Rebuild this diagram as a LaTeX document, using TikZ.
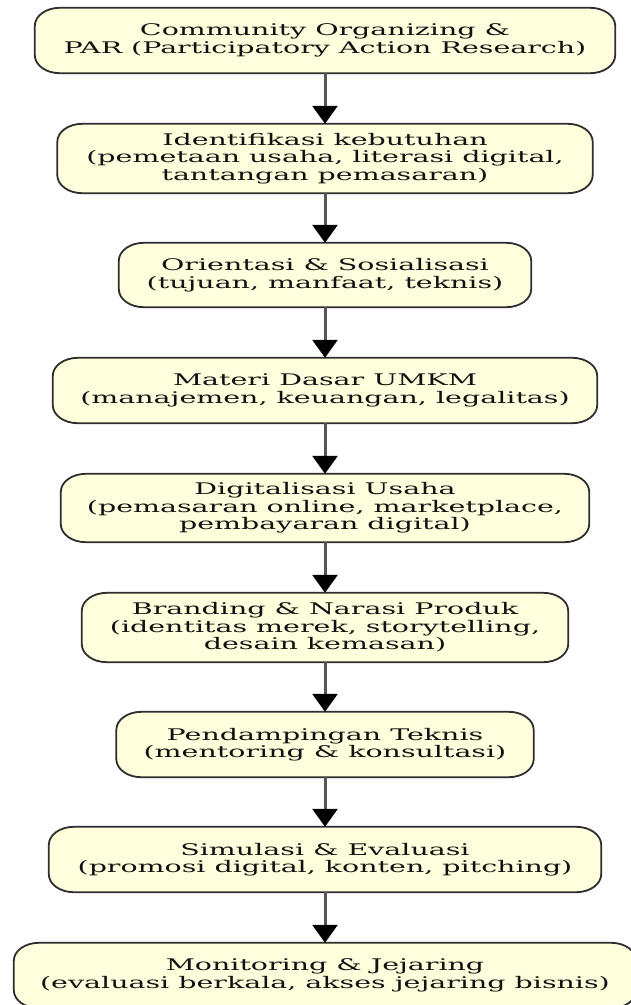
\documentclass[tikz,border=0pt]{standalone}
\usepackage{fontspec}
\newfontfamily\boxfont{DejaVu Serif}[FakeStretch=1.78]
\usetikzlibrary{arrows.meta,backgrounds}
\definecolor{boxfill}{HTML}{FFFFDD}
\definecolor{boxdraw}{HTML}{2E2E2E}
\definecolor{arrowgray}{HTML}{555555}
\definecolor{txt}{HTML}{111111}
\tikzset{
  flowbox/.style={align=center, font=\boxfont\fontsize{16}{17.5}\selectfont, text=txt, inner sep=0pt},
  flowarrow/.style={draw=arrowgray, line width=3pt, -{Triangle[width=25pt,length=18pt,color=black]}},
  boxline/.style={draw=boxdraw, fill=boxfill, line width=1.8pt}
}
\newcommand\ellbox[1]{%
  \path[boxline] ([xshift=25pt]#1.north west) -- ([xshift=-25pt]#1.north east)
    arc[start angle=90,end angle=0,x radius=25pt,y radius=18pt]
    -- ([yshift=18pt]#1.south east)
    arc[start angle=0,end angle=-90,x radius=25pt,y radius=18pt]
    -- ([xshift=25pt]#1.south west)
    arc[start angle=270,end angle=180,x radius=25pt,y radius=18pt]
    -- ([yshift=-18pt]#1.north west)
    arc[start angle=180,end angle=90,x radius=25pt,y radius=18pt] -- cycle;}
\begin{document}
\begin{tikzpicture}[x=1pt,y=1pt]
\useasboundingbox (0,0) rectangle (630,-1005);
\node[flowbox, minimum width=580pt, minimum height=65pt] (n1) at (325,-40.5) {Community Organizing \&\\PAR (Participatory Action Research)};
\node[flowbox, minimum width=535pt, minimum height=69pt] (n2) at (325,-158.5) {Identifikasi kebutuhan\\(pemetaan usaha, literasi digital,\\tantangan pemasaran)};
\node[flowbox, minimum width=412pt, minimum height=64pt] (n3) at (325,-275) {Orientasi \& Sosialisasi\\(tujuan, manfaat, teknis)};
\node[flowbox, minimum width=544pt, minimum height=65pt] (n4) at (325,-390.5) {Materi Dasar UMKM\\(manajemen, keuangan, legalitas)};
\node[flowbox, minimum width=528pt, minimum height=68pt] (n5) at (325,-508) {Digitalisasi Usaha\\(pemasaran online, marketplace,\\pembayaran digital)};
\node[flowbox, minimum width=486pt, minimum height=69pt] (n6) at (325,-627.5) {Branding \& Narasi Produk\\(identitas merek, storytelling,\\desain kemasan)};
\node[flowbox, minimum width=417pt, minimum height=65pt] (n7) at (325,-744.5) {Pendampingan Teknis\\(mentoring \& konsultasi)};
\node[flowbox, minimum width=552pt, minimum height=65pt] (n8) at (325,-859.5) {Simulasi \& Evaluasi\\(promosi digital, konten, pitching)};
\node[flowbox, minimum width=622pt, minimum height=65pt] (n9) at (325,-975.5) {Monitoring \& Jejaring\\(evaluasi berkala, akses jejaring bisnis)};
\begin{scope}[on background layer]
\fill[white] (0,0) rectangle (630,-1005);
\ellbox{n1}\ellbox{n2}\ellbox{n3}\ellbox{n4}\ellbox{n5}\ellbox{n6}\ellbox{n7}\ellbox{n8}\ellbox{n9}
\end{scope}
\draw[flowarrow] (n1) -- (n2);
\draw[flowarrow] (n2) -- (n3);
\draw[flowarrow] (n3) -- (n4);
\draw[flowarrow] (n4) -- (n5);
\draw[flowarrow] (n5) -- (n6);
\draw[flowarrow] (n6) -- (n7);
\draw[flowarrow] (n7) -- (n8);
\draw[flowarrow] (n8) -- (n9);
\end{tikzpicture}
\end{document}
